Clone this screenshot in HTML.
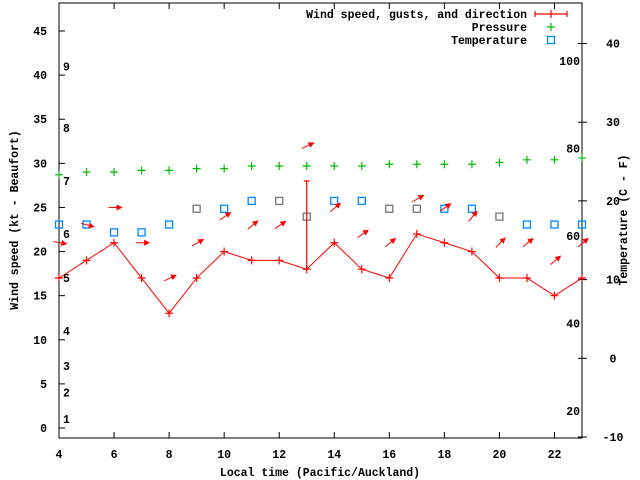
<!DOCTYPE html>
<html><head><meta charset="utf-8"><style>
body{margin:0;background:#fff}
svg{display:block;font-family:"Liberation Mono",monospace;font-weight:bold;font-size:11.5px}
</style></head><body>
<svg width="640" height="480" id="c">
<defs><marker id="ah" markerWidth="6" markerHeight="6" refX="5" refY="3" orient="auto" markerUnits="userSpaceOnUse"><path d="M0,0 L6,3 L0,6 z" fill="#f00"/></marker></defs>
<g id="g"></g>
</svg>
<script>
const hours=[4,5,6,7,8,9,10,11,12,13,14,15,16,17,18,19,20,21,22,23];
const windSpeed=[17,19,21,17,13,17,20,19,19,18,21,18,17,22,21,20,17,17,15,17];
const gusts=[null,null,null,null,null,null,null,null,null,28,null,null,null,null,null,null,null,null,null,null];
const windDir=[10,15,0,0,-25,-30,-35,-40,-35,-25,-40,-35,-40,-30,-35,-50,-45,-40,-40,-40];
const pressure=[28.7,29,29,29.2,29.2,29.4,29.4,29.7,29.7,29.7,29.7,29.7,29.9,29.9,29.9,29.9,30.1,30.4,30.4,30.6];
const temperature=[17,17,16,16,17,19,19,20,20,18,20,20,19,19,19,19,18,17,17,17];
const tempGrey=[0,0,0,0,0,1,0,0,1,1,0,0,1,1,0,0,1,0,0,0];
const xTicks=[4,6,8,10,12,14,16,18,20,22];
const yTicks=[0,5,10,15,20,25,30,35,40,45];
const tTicks=[-10,0,10,20,30,40];
const fTicks=[20,40,60,80,100];
const beaufortKt=[1,4,7,11,17,22,28,34,41];
const beaufortLbl=["1","2","3","4","5","6","7","8","9"];

const L=59,R=582,T=3,B=438;
const X=h=>L+(h-4)*(R-L)/19;
const Y=v=>428-v*8.822;
const TY=c=>437-(c+10)*7.87;
const g=document.getElementById('g');
const NS='http://www.w3.org/2000/svg';
function mk(t,a,txt){const e=document.createElementNS(NS,t);for(const k in a)e.setAttribute(k,a[k]);if(txt!==undefined)e.textContent=txt;g.appendChild(e);return e;}

let e;
e=mk('rect',{x:L,y:T,width:R-L,height:B-T,fill:'none',stroke:'#000','stroke-width':1});


xTicks.forEach(h=>{
  e=mk('line',{x1:X(h),x2:X(h),y1:B,y2:B-6,stroke:'#000'});
  
  
  mk('line',{x1:X(h),x2:X(h),y1:T,y2:T+6,stroke:'#000'});
  e=mk('text',{x:X(h),y:458,'text-anchor':'middle'},String(h));
  
  
});
yTicks.forEach(v=>{
  e=mk('line',{x1:L,x2:L+6,y1:Y(v),y2:Y(v),stroke:'#000'});
  
  
  e=mk('text',{x:47,y:Y(v)+4,'text-anchor':'end'},String(v));
  
  
});
tTicks.forEach(c=>{
  e=mk('line',{x1:R-4,x2:R+5,y1:TY(c),y2:TY(c),stroke:'#000'});
  
  
  e=mk('text',{x:613,y:TY(c)+4,'text-anchor':'middle'},String(c));
  
  
});
fTicks.forEach(f=>{
  e=mk('text',{x:580,y:TY((f-32)*5/9)+4,'text-anchor':'end'},String(f));
  
  
});
beaufortKt.forEach((k,i)=>{
  e=mk('text',{x:63,y:Y(k)+4},beaufortLbl[i]);
  
  
});
e=mk('text',{x:320,y:476,'text-anchor':'middle'},'Local time (Pacific/Auckland)');


e=mk('text',{x:18,y:220,'text-anchor':'middle',transform:'rotate(-90 18 220)'},'Wind speed (kt - Beaufort)');


e=mk('text',{x:627,y:220,'text-anchor':'middle',transform:'rotate(-90 627 220)'},'Temperature (C - F)');



// pressure
pressure.forEach((p,i)=>{
  const x=X(hours[i]),y=Y(p);
  e=mk('path',{d:`M${x-4},${y}h8M${x},${y-4}v8`,stroke:'#0b0','stroke-width':1.2});
  
  
});
// temperature
temperature.forEach((t,i)=>{
  const x=X(hours[i]),y=TY(t);
  e=mk('rect',{x:x-3.5,y:y-3.5,width:7,height:7,fill:'none',stroke:tempGrey[i]?'#777':'#08f','stroke-width':1.3});
  
  
});
// wind line
e=mk('polyline',{points:windSpeed.map((w,i)=>X(hours[i])+','+Y(w)).join(' '),fill:'none',stroke:'#f00','stroke-width':1});


windSpeed.forEach((w,i)=>{
  const x=X(hours[i]),y=Y(w);
  e=mk('path',{d:`M${x-4},${y}h8M${x},${y-4}v8`,stroke:'#f00','stroke-width':1.2});
  
  
  if(gusts[i]!=null){
    e=mk('path',{d:`M${x},${y}V${Y(gusts[i])}M${x-3},${Y(gusts[i])}h6`,stroke:'#f00','stroke-width':1.2});
    
    
  }
  const top=gusts[i]!=null?gusts[i]:w;
  const cy=Y(top+4),cx=x+1,a=windDir[i]*Math.PI/180,len=13;
  const dx=Math.cos(a)*len/2,dy=Math.sin(a)*len/2;
  e=mk('line',{x1:cx-dx,y1:cy-dy,x2:cx+dx,y2:cy+dy,stroke:'#f00','stroke-width':1,'marker-end':'url(#ah)'});
  
  
});
// legend
const lg=[['Wind speed, gusts, and direction',14],['Pressure',27],['Temperature',40]];
lg.forEach(([t,y])=>{
  e=mk('text',{x:527,y:y+4,'text-anchor':'end'},t);
  
  
});
e=mk('path',{d:'M535,14h32M535,11v6M567,11v6M551,10v8',stroke:'#f00','stroke-width':1.2});


e=mk('path',{d:'M547,27h8M551,23v8',stroke:'#0b0','stroke-width':1.2});


e=mk('rect',{x:547.5,y:36.5,width:7,height:7,fill:'none',stroke:'#08f','stroke-width':1.3});


</script>
</body></html>
